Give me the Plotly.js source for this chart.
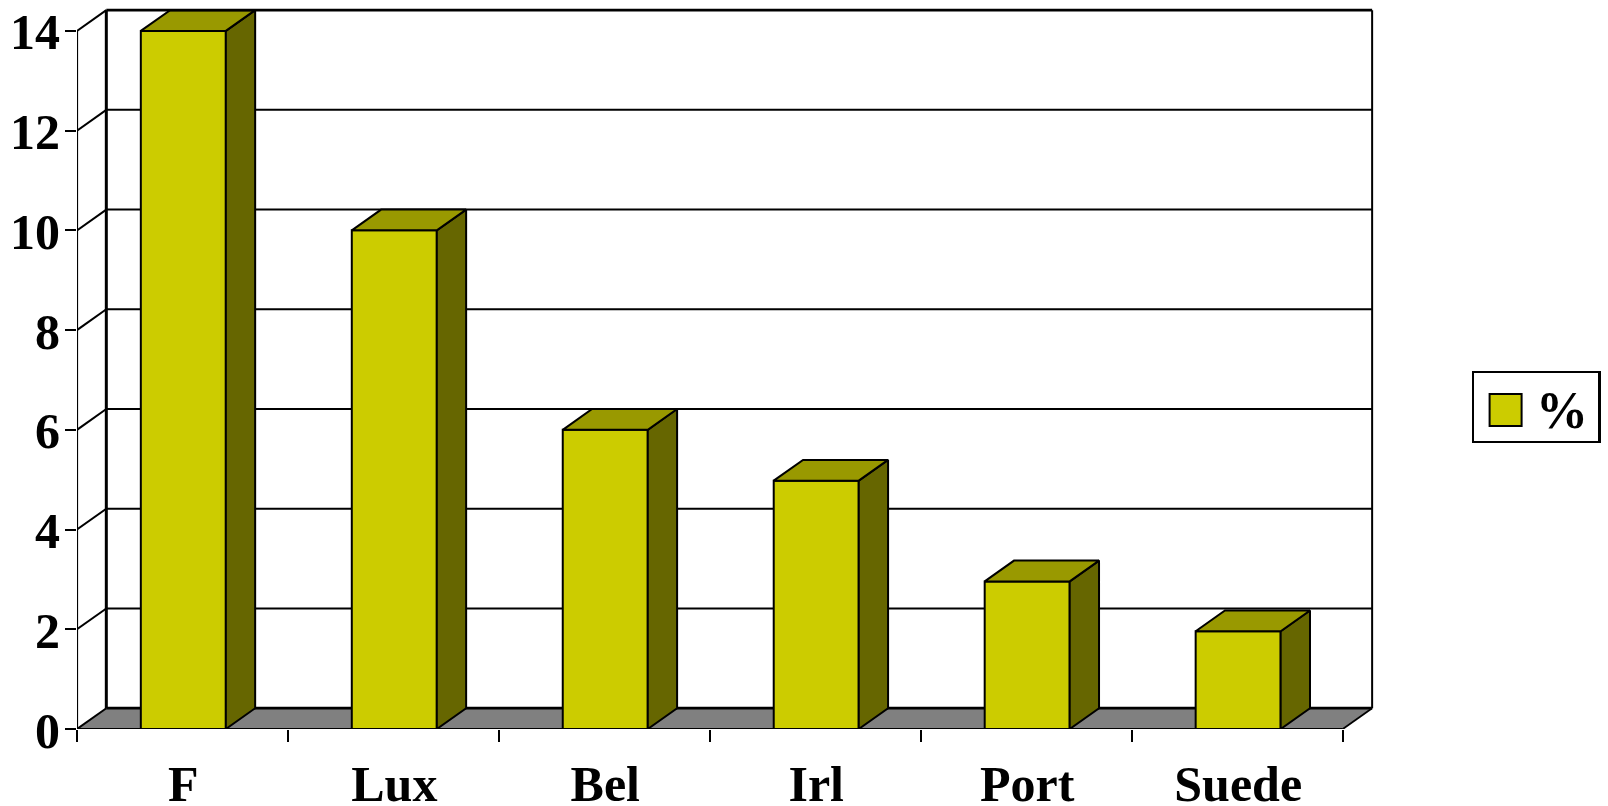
<!DOCTYPE html>
<html><head><meta charset="utf-8">
<script src="https://cdn.plot.ly/plotly-3.0.1.min.js"></script>
<style>html,body{margin:0;padding:0;background:#fff}#c{width:1608px;height:806px}</style></head>
<body><div id="c"></div>
<script>
const categories = ["F","Lux","Bel","Irl","Port","Suede"];
const values = [14,10,6,4.98,2.96,1.96];
const yTicks = [0,2,4,6,8,10,12,14];
const seriesName = "%";
const FRONT="#CCCC00", TOP="#999900", SIDE="#666600", FLOOR="#808080", INK="#000000";
const dx=0.139, dy=0.417, w=0.403, shift=0.004;
const n=categories.length;
const centers=categories.map((_,i)=>i+0.5+shift);
const yMax=yTicks[yTicks.length-1];
const boundaries=[...Array(n+1).keys()];

const traces=[{type:"bar",x:centers,y:values,width:w,name:seriesName,showlegend:true,
  marker:{color:FRONT,line:{color:INK,width:2}},hoverinfo:"x+y"}];
function poly(xs,ys,fill){traces.push({type:"scatter",mode:"lines",x:xs,y:ys,fill:"toself",fillcolor:fill,
  line:{color:INK,width:2},showlegend:false,hoverinfo:"skip",cliponaxis:false});}
values.forEach((v,i)=>{const L=centers[i]-w/2,R=centers[i]+w/2;
  poly([R,R+dx,R+dx,R,R],[0,dy,v+dy,v,0],SIDE);
  poly([L,L+dx,R+dx,R,L],[v,v+dy,v+dy,v,v],TOP);});
function line(xs,ys,width){traces.push({type:"scatter",mode:"lines",x:xs,y:ys,line:{color:INK,width:width},
  showlegend:false,hoverinfo:"skip",cliponaxis:false});}
line([0,0],[0,yMax],2.2);
line([0,n],[0,0],2.2);
line([n,n+dx],[0,dy],1.8);
line([dx,dx],[dy,yMax+dy],3);
line([n+dx,n+dx],[dy,yMax+dy],2);
line([dx,n+dx],[yMax+dy,yMax+dy],2.8);

const shapes=[{type:"path",xref:"x",yref:"y",layer:"below",
  path:`M0,0L${n},0L${n+dx},${dy}L${dx},${dy}Z`,fillcolor:FLOOR,line:{width:0}},
  {type:"line",xref:"x",yref:"y",layer:"below",x0:dx,x1:n+dx,y0:dy,y1:dy,line:{color:INK,width:2.8}}];
yTicks.forEach(t=>{
  shapes.push({type:"line",xref:"x",yref:"y",layer:"below",x0:0,x1:dx,y0:t,y1:t+dy,line:{color:INK,width:2}});
  if(t>0&&t<yMax)shapes.push({type:"line",xref:"x",yref:"y",layer:"below",x0:dx,x1:n+dx,y0:t+dy,y1:t+dy,line:{color:INK,width:2}});
});

const font={family:"Liberation Serif",size:50,color:INK,weight:700};
const layout={width:1608,height:806,paper_bgcolor:"#fff",plot_bgcolor:"#fff",
  margin:{l:77,r:222.5,t:2,b:76.7,pad:0},
  xaxis:{range:[0,6.2],tickmode:"array",tickvals:centers,ticktext:categories,ticks:"",showgrid:false,zeroline:false,showline:false,
    tickfont:font,ticklabelstandoff:21,
    minor:{ticks:"outside",tickmode:"array",tickvals:boundaries,ticklen:12,tickwidth:2,tickcolor:INK,showgrid:false}},
  yaxis:{range:[0,14.58],tickmode:"array",tickvals:yTicks,ticks:"outside",ticklen:11,tickwidth:2,tickcolor:INK,showgrid:false,zeroline:false,showline:false,
    tickfont:font,ticklabelstandoff:-5,ticklabelshift:1},
  showlegend:true,
  legend:{xref:"container",yref:"container",x:1471.5/1608,y:1-371/806,xanchor:"left",yanchor:"top",
    bgcolor:"#fff",bordercolor:INK,borderwidth:2.4,font:{family:"Liberation Serif",size:52,color:INK,weight:700},
    itemwidth:30,entrywidth:70,entrywidthmode:"pixels"},
  shapes:shapes,bargap:0};
Plotly.newPlot("c",traces,layout,{displayModeBar:false,staticPlot:true}).then(gd=>{
  const q=s=>gd.querySelector(s);
  const bg=q(".legend .bg");
  bg.setAttribute("width","127"); bg.setAttribute("height","69.5");
  q(".legend .scrollbox").removeAttribute("clip-path");
  q(".legend .scrollbox").style.clipPath="none";
  const pts=q(".legendpoints path");
  pts.setAttribute("d","M16,16H-16V-16H16Z");
  const nudge=(el,cx,cy)=>{const r=el.getBoundingClientRect();
    const ddx=cx-(r.left+r.width/2), ddy=cy-(r.top+r.height/2);
    el.setAttribute("transform",`translate(${ddx},${ddy}) `+(el.getAttribute("transform")||""));};
  nudge(q(".legendsymbols"),1505.6,410);
  const t=q(".legendtext"); const r=t.getBoundingClientRect();
  t.setAttribute("x",parseFloat(t.getAttribute("x"))+(1562-(r.left+r.width/2)));
  t.setAttribute("y",parseFloat(t.getAttribute("y"))+(410-(r.top+r.height/2)));
});
</script></body></html>
